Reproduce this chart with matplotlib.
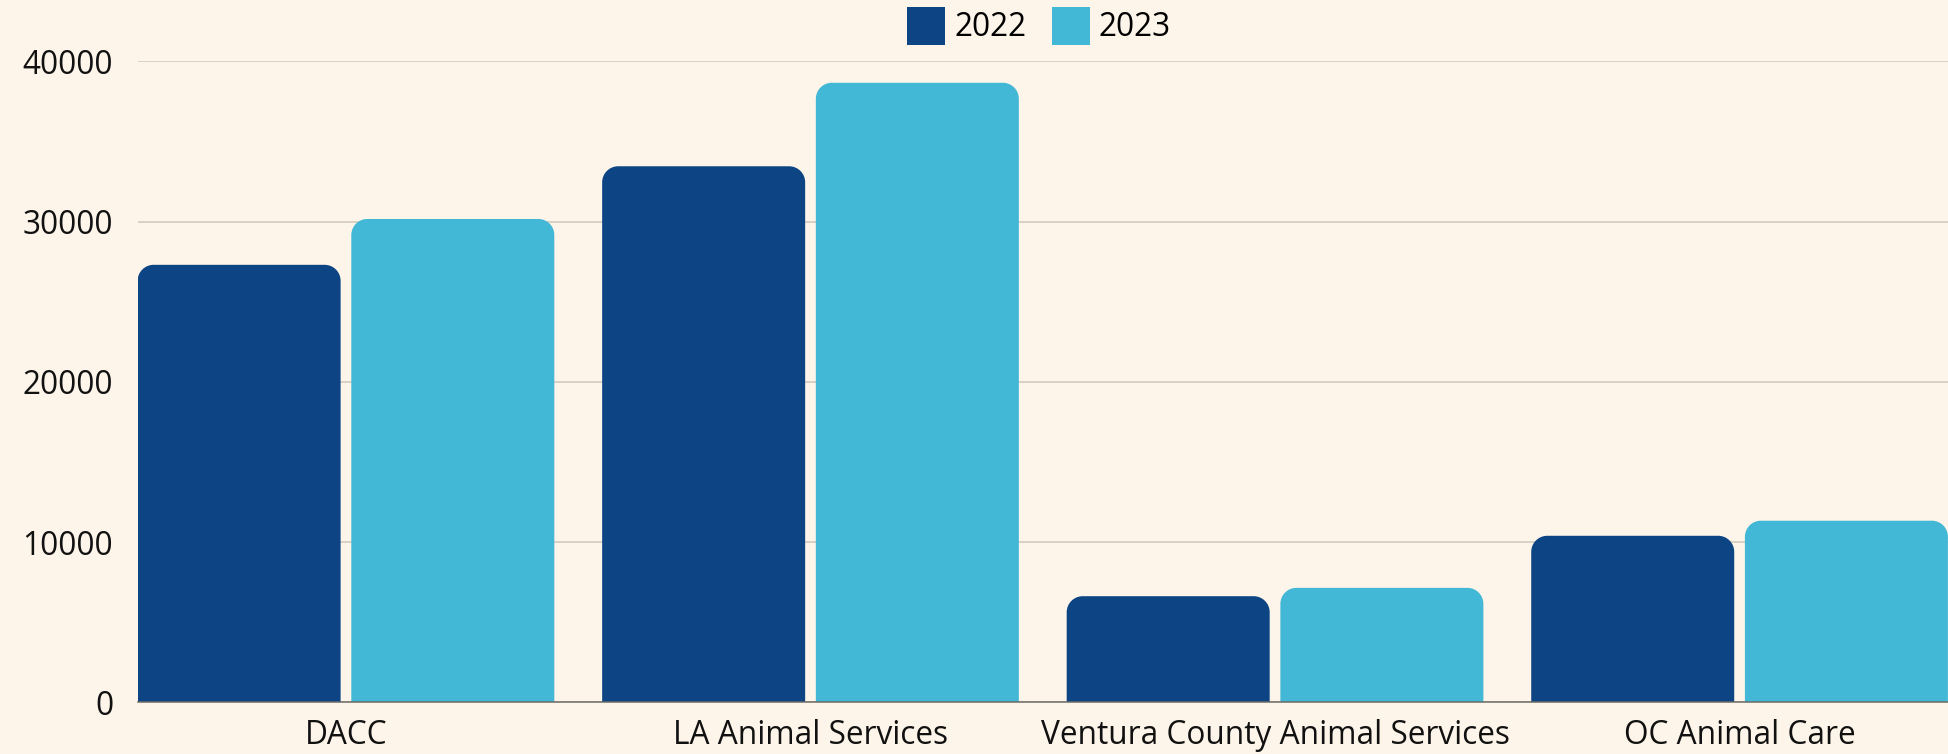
import numpy as np
import matplotlib
matplotlib.use('Agg')
import matplotlib.pyplot as plt
from matplotlib.path import Path
from matplotlib.patches import PathPatch, Patch

categories = ['DACC', 'LA Animal Services', 'Ventura County Animal Services', 'OC Animal Care']
years = ['2022', '2023']
v2022 = [27300, 33450, 6620, 10390]
v2023 = [30160, 38660, 7140, 11330]
yticks = [0, 10000, 20000, 30000, 40000]

colors = ['#0d4483', '#42b7d6']
bg = '#fdf5e9'

plt.rcParams['font.family'] = ['Open Sans', 'DejaVu Sans']

fig = plt.figure(figsize=(19.48, 7.54), dpi=100, facecolor=bg)
ax = fig.add_axes([0.0706, 0.0686, 0.9294, 0.8501], facecolor=bg)

ax.set_xlim(-0.4487, 3.4487)
ax.set_ylim(0, 40000)

# corner radius of ~16 px, turned into data units
p0 = ax.transData.transform((0, 0))
p1 = ax.transData.transform((1, 10000))
rx = 16 / (p1[0] - p0[0])
ry = 16 / (p1[1] - p0[1]) * 10000
k = 0.5523  # bezier constant for a quarter circle


def round_bar(x0, w, h, color):
    x1 = x0 + w
    verts = [(x0, 0), (x0, h - ry),
             (x0, h - ry + k * ry), (x0 + rx - k * rx, h), (x0 + rx, h),
             (x1 - rx, h),
             (x1 - rx + k * rx, h), (x1, h - ry + k * ry), (x1, h - ry),
             (x1, 0), (x0, 0)]
    codes = [Path.MOVETO, Path.LINETO,
             Path.CURVE4, Path.CURVE4, Path.CURVE4,
             Path.LINETO,
             Path.CURVE4, Path.CURVE4, Path.CURVE4,
             Path.LINETO, Path.CLOSEPOLY]
    ax.add_patch(PathPatch(Path(verts, codes), facecolor=color, edgecolor='none', zorder=3))


x = np.arange(len(categories))
bw = 0.437
off = 0.230
for i in range(len(categories)):
    round_bar(x[i] - off - bw / 2, bw, v2022[i], colors[0])
    round_bar(x[i] + off - bw / 2, bw, v2023[i], colors[1])

ax.set_yticks(yticks)
ax.set_yticklabels([str(t) for t in yticks])
ax.set_xticks(x)
ax.set_xticklabels(categories)
ax.grid(axis='y', color='#cfc7ba', linewidth=1.1, zorder=0)
ax.set_axisbelow(True)
ax.tick_params(axis='y', length=0, pad=17.5, labelsize=22.8, labelcolor='#111111')
ax.tick_params(axis='x', length=0, pad=12, labelsize=22.8, labelcolor='#111111')
for s in ['top', 'right', 'left']:
    ax.spines[s].set_visible(False)
ax.spines['bottom'].set_color('#6d6a66')
ax.spines['bottom'].set_linewidth(1.1)
ax.spines['bottom'].set_zorder(4)

handles = [Patch(facecolor=colors[0], edgecolor='none'), Patch(facecolor=colors[1], edgecolor='none')]
fig.legend(handles, years, loc='center', bbox_to_anchor=(0.5333, 0.9655), ncol=2,
           frameon=False, fontsize=22.8, handlelength=1.2, handleheight=1.48,
           handletextpad=0.28, columnspacing=0.8, borderpad=0)

fig.savefig('out.png', dpi=100, facecolor=bg)
